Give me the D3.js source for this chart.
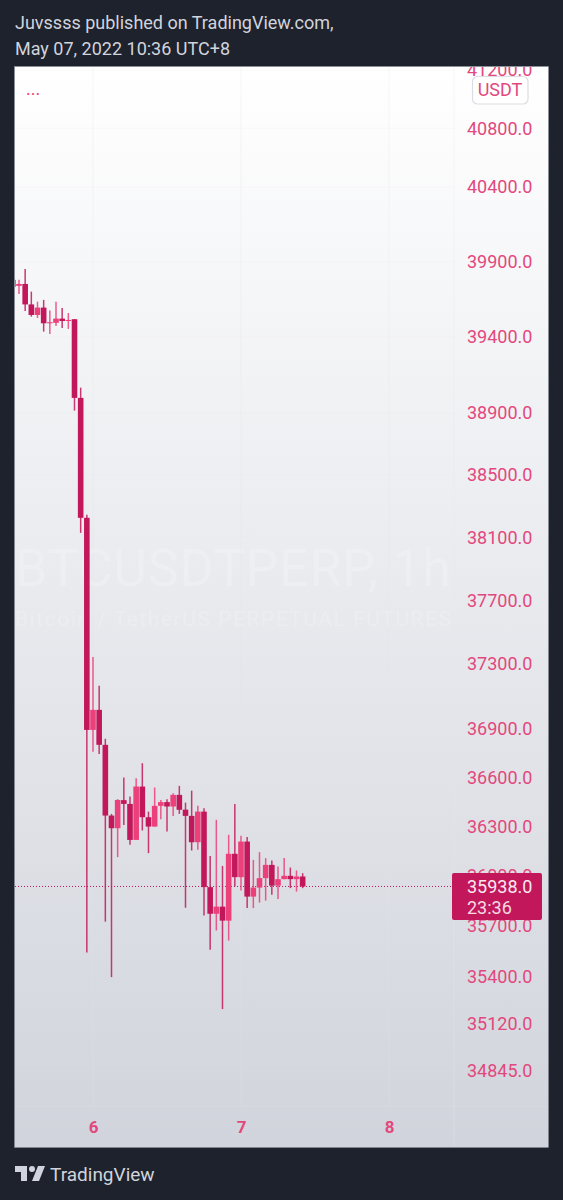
<!DOCTYPE html>
<html><head><meta charset="utf-8">
<script src="https://cdnjs.cloudflare.com/ajax/libs/d3/7.8.5/d3.min.js"></script>
<style>html,body{margin:0;padding:0;background:#1e222d;overflow:hidden}svg{display:block}text{font-family:Roboto,sans-serif}</style>
</head><body><svg id="c" width="563" height="1200"></svg>
<script>
const title1 = "Juvssss published on TradingView.com,";
const title2 = "May 07, 2022 10:36 UTC+8";
const priceTicks = [41200,40800,40400,39900,39400,38900,38500,38100,37700,37300,36900,36600,36300,36000,35700,35400,35120,34845];
const dayTicks = [0,24,48];
const dayLabels = ["6","7","8"];
const hours = d3.range(-13,35);
const opens = [39778,39738,39751,39615,39545,39594,39490,39493,39521,39505,39517,39000,38225,36892,37016,36800,36367,36290,36461,36438,36219,36544,36357,36300,36426,36449,36422,36493,36403,36365,36205,36391,35934,35774,35817,35733,36135,35994,36209,35877,35931,35988,36068,35943,35982,36002,35982,35998];
const highs = [39790,39778,39851,39700,39633,39645,39574,39633,39592,39558,39517,39067,38244,37345,37165,36837,36377,36467,36599,36483,36595,36687,36391,36538,36462,36467,36503,36548,36446,36519,36426,36412,36122,36341,36062,36250,36438,36244,36236,36098,36145,36109,36094,36058,36109,36052,36034,36018];
const lows = [39725,39684,39571,39534,39525,39435,39420,39472,39459,39453,38917,38129,35543,36758,36744,35727,35397,36115,36310,36189,36219,36276,36139,36300,36345,36270,36365,36377,35810,36155,36159,35763,35559,35674,35208,35614,35937,35913,35808,35808,35841,35853,35888,35862,35982,35928,35907,35928];
const closes = [39731,39751,39615,39545,39594,39490,39497,39521,39505,39512,39000,38225,36892,37016,36800,36367,36290,36462,36438,36219,36544,36357,36300,36426,36449,36422,36493,36402,36365,36205,36391,35934,35774,35817,35733,36135,35994,36209,35877,35931,35988,36068,35943,35982,36002,35982,35998,35938];
const lastPrice = 35938;
const countdown = "23:36";

const DOWN="#c2185b", UP="#ec407a", AXIS="#e2487d";
const svg=d3.select("#c");
const P={l:15,r:548,t:67,b:1147,ax:454};
const defs=svg.append("defs");
const g=defs.append("linearGradient").attr("id","bg").attr("x1",0).attr("x2",0).attr("y1",0).attr("y2",1);
g.append("stop").attr("offset",0).attr("stop-color","#ffffff");
g.append("stop").attr("offset",1).attr("stop-color","#d1d4dc");
defs.append("clipPath").attr("id","panel").append("rect").attr("x",P.l).attr("y",P.t).attr("width",P.r-P.l).attr("height",P.b-P.t);

svg.append("text").attr("x",15).attr("y",29).attr("font-size",18).attr("fill","#d1d4dc").text(title1);
svg.append("text").attr("x",15).attr("y",55).attr("font-size",18).attr("fill","#d1d4dc").text(title2);

svg.append("rect").attr("x",P.l-.5).attr("y",P.t-.5).attr("width",P.r-P.l+1).attr("height",P.b-P.t+1).attr("fill","url(#bg)").attr("stroke","#8a8e99").attr("stroke-width",.5);

const x=d3.scaleLinear().domain([0,24]).range([93,241]);
const y=d3.scaleLog().domain([34845,41200]).range([1071,70]);
const root=svg.append("g").attr("clip-path","url(#panel)");

// grid
root.append("g").selectAll("line").data(dayTicks).join("line")
 .attr("x1",d=>x(d)).attr("x2",d=>x(d)).attr("y1",P.t).attr("y2",1106).attr("stroke","#e4e6ec").attr("stroke-opacity",.3);
root.append("g").selectAll("line").data(priceTicks).join("line")
 .attr("x1",P.l).attr("x2",P.ax).attr("y1",d=>y(d)).attr("y2",d=>y(d)).attr("stroke","#e4e6ec").attr("stroke-opacity",.15);
root.append("line").attr("x1",P.ax).attr("x2",P.ax).attr("y1",P.t).attr("y2",P.b).attr("stroke","#e4e6ec").attr("stroke-opacity",.35);
root.append("line").attr("x1",P.l).attr("x2",P.r).attr("y1",1106.5).attr("y2",1106.5).attr("stroke","#e4e6ec").attr("stroke-opacity",.2);

// watermark
root.append("text").attr("x",15).attr("y",586).attr("font-size",52).attr("fill","#fff").attr("fill-opacity",.2).attr("textLength",436).text("BTCUSDTPERP, 1h");
root.append("text").attr("x",15).attr("y",626).attr("font-size",21).attr("fill","#fff").attr("fill-opacity",.2).attr("textLength",436).text("Bitcoin / TetherUS PERPETUAL FUTURES");

root.append("text").attr("x",26).attr("y",95).attr("font-size",18).attr("fill",UP).text("...");

// last price line
root.append("line").attr("x1",P.l).attr("x2",P.ax).attr("y1",y(lastPrice)).attr("y2",y(lastPrice)).attr("stroke",DOWN).attr("stroke-width",1).attr("stroke-dasharray","1 2");

// candles
const candles=hours.map((h,i)=>({h,o:opens[i],hi:highs[i],lo:lows[i],c:closes[i]}));
const col=d=>d.c>=d.o?UP:DOWN;
const cg=root.append("g").selectAll("g").data(candles).join("g");
cg.append("line").attr("x1",d=>x(d.h)).attr("x2",d=>x(d.h)).attr("y1",d=>y(d.hi)).attr("y2",d=>y(d.lo)).attr("stroke",col).attr("stroke-width",1.5).attr("stroke-opacity",.85);
cg.append("rect").attr("x",d=>x(d.h)-2.8).attr("width",5.6)
 .attr("y",d=>y(Math.max(d.o,d.c))).attr("height",d=>Math.max(1,Math.abs(y(d.o)-y(d.c)))).attr("fill",col);

// axes
const ay=root.append("g").attr("transform",`translate(${467},0)`)
 .call(d3.axisRight(y).tickValues(priceTicks).tickSize(0).tickPadding(0).tickFormat(d3.format(".1f")));
ay.select(".domain").remove();
ay.selectAll("text").attr("font-size",18).attr("fill",AXIS).attr("font-family","Roboto,sans-serif");

const ax=root.append("g").attr("transform","translate(0,1121)")
 .call(d3.axisBottom(x).tickValues(dayTicks).tickSize(0).tickPadding(0).tickFormat((d,i)=>dayLabels[i]));
ax.select(".domain").remove();
ax.selectAll("text").attr("font-size",17).attr("font-weight",700).attr("fill",AXIS).attr("font-family","Roboto,sans-serif");

// USDT button
svg.append("rect").attr("x",472.5).attr("y",76.5).attr("width",55.5).attr("height",27.5).attr("rx",5).attr("fill","#fff").attr("stroke","#dcdde2").attr("stroke-width",1.2);
svg.append("text").attr("x",500).attr("y",96).attr("text-anchor","middle").attr("font-size",18).attr("fill",AXIS).text("USDT");

// price box
svg.append("rect").attr("x",452).attr("y",873).attr("width",90).attr("height",47).attr("rx",2).attr("fill",DOWN);
svg.append("text").attr("x",467).attr("y",893).attr("font-size",18).attr("fill","#fff").attr("fill-opacity",.93).text(d3.format(".1f")(lastPrice));
svg.append("text").attr("x",467).attr("y",914).attr("font-size",18).attr("fill","#fff").attr("fill-opacity",.85).text(countdown);

// footer
svg.append("path").attr("transform","translate(13,1160)").attr("fill","#d1d4dc")
 .attr("d","M14 6H2v6h6v9h6V6Zm12 15h-7l6-15h7l-6 15Zm-7-9a3 3 0 1 0 0-6 3 3 0 0 0 0 6Z");
svg.append("text").attr("x",50).attr("y",1181).attr("font-size",19).attr("fill","#d1d4dc").text("TradingView");
</script></body></html>
